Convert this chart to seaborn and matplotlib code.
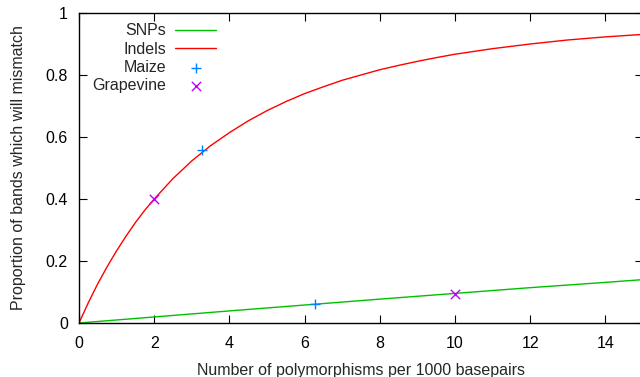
import numpy as np
import pandas as pd
import matplotlib
matplotlib.use("Agg")
import matplotlib.pyplot as plt
import seaborn as sns

# Data
x_curve = [0, 0.25, 0.5, 0.75, 1, 1.25, 1.5, 1.75, 2, 2.5, 3, 3.5, 4, 4.5, 5, 5.5,
           6, 6.5, 7, 7.5, 8, 8.5, 9, 9.5, 10, 11, 12, 13, 14, 15]
indels = [0, 0.066, 0.127, 0.182, 0.233, 0.280, 0.324, 0.364, 0.400, 0.466, 0.523,
          0.572, 0.614, 0.652, 0.685, 0.714, 0.740, 0.762, 0.783, 0.800, 0.817,
          0.831, 0.844, 0.856, 0.867, 0.885, 0.900, 0.913, 0.923, 0.931]
snps_x = [0, 2, 4, 6, 8, 10, 12, 14, 15]
snps = [0, 0.0195, 0.039, 0.058, 0.077, 0.0955, 0.114, 0.131, 0.140]
maize_x = [3.26, 6.27]
maize_y = [0.558, 0.061]
grape_x = [2.0, 10.0]
grape_y = [0.40, 0.095]
x_ticks = [0, 2, 4, 6, 8, 10, 12, 14]
y_ticks = [0, 0.2, 0.4, 0.6, 0.8, 1]
y_tick_labels = ["0", "0.2", "0.4", "0.6", "0.8", "1"]

sns.set_style("ticks")
plt.rcParams['font.family'] = ['Liberation Sans', 'DejaVu Sans']
FS = 11.5

fig = plt.figure(figsize=(6.4, 3.77), dpi=100)
ax = fig.add_axes([79/640, 1 - 323/377, (643 - 79)/640, 310/377])

df_snp = pd.DataFrame({"x": snps_x, "y": snps})
df_ind = pd.DataFrame({"x": x_curve, "y": indels})
sns.lineplot(data=df_snp, x="x", y="y", ax=ax, color="#00c000", lw=1.0, label="SNPs")
sns.lineplot(data=df_ind, x="x", y="y", ax=ax, color="#ff0000", lw=1.0, label="Indels")
sns.scatterplot(x=maize_x, y=maize_y, ax=ax, marker="+", color="#0080ff", s=55,
                linewidth=1.0, label="Maize", zorder=5)
sns.scatterplot(x=grape_x, y=grape_y, ax=ax, marker="x", color="#c000ff", s=45,
                linewidth=1.0, label="Grapevine", zorder=5)

ax.set_xlim(0, 15)
ax.set_ylim(0, 1)
ax.set_xticks(x_ticks)
ax.set_yticks(y_ticks)
ax.set_yticklabels(y_tick_labels)
ax.tick_params(direction="in", length=5.5, width=0.8, top=True, right=True,
               labelsize=FS, colors="black")
ax.tick_params(axis="x", pad=9)
ax.tick_params(axis="y", pad=8)
for s in ax.spines.values():
    s.set_linewidth(1.0)
    s.set_color("black")

ax.set_xlabel("Number of polymorphisms per 1000 basepairs", fontsize=FS, labelpad=9)
ax.set_ylabel("Proportion of bands which will mismatch", fontsize=FS, labelpad=14)

leg = ax.legend(loc="upper left", bbox_to_anchor=(0.012, 0.987), frameon=False,
                markerfirst=False, fontsize=FS, handlelength=2.6, handletextpad=0.55,
                labelspacing=0.2, borderaxespad=0)

fig.savefig("out.png", dpi=100)
